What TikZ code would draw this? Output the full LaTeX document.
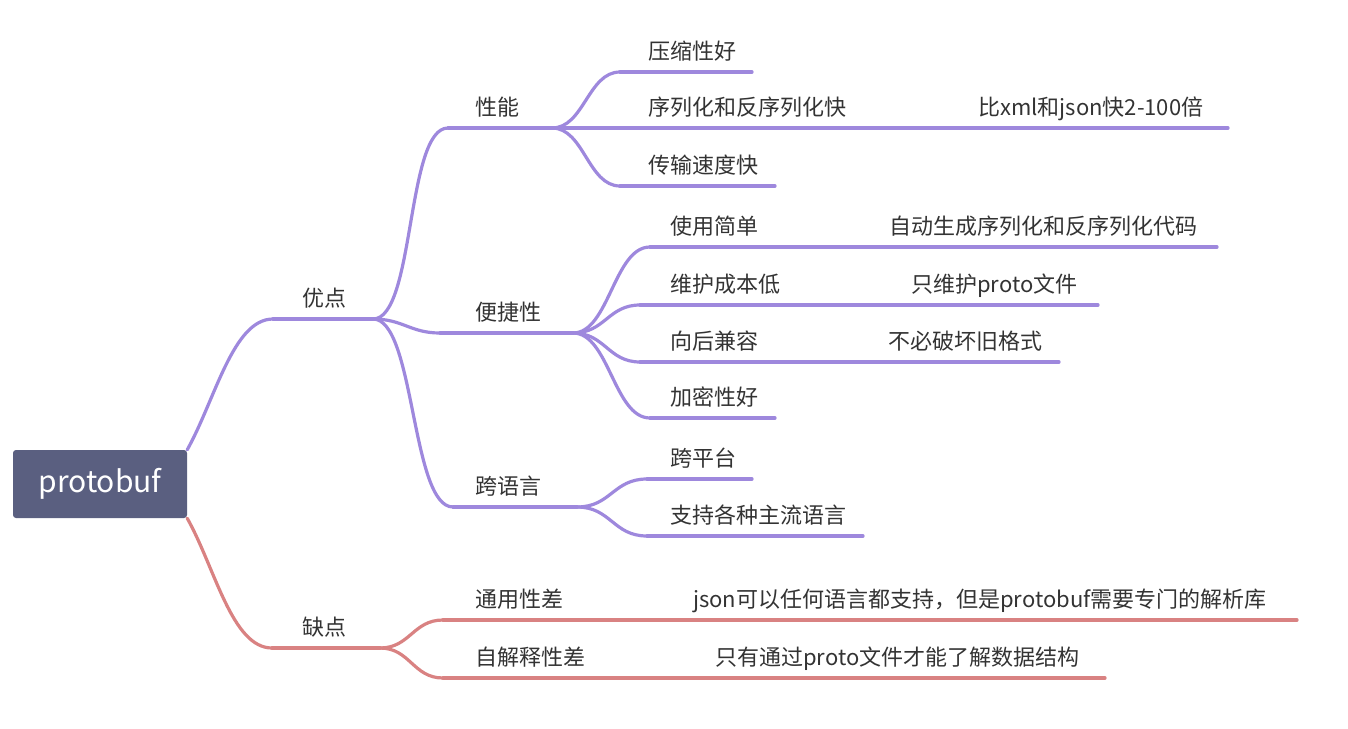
\documentclass[tikz,border=0pt]{standalone}
\usepackage{fontspec}
\newfontfamily\cjk{Noto Sans CJK SC}
\usetikzlibrary{calc}
\definecolor{topic}{HTML}{5A5F80}
\definecolor{pro}{HTML}{9E88DD}
\definecolor{con}{HTML}{D98282}
\definecolor{ink}{HTML}{333333}

\begin{document}
\begin{tikzpicture}[x=1pt, y=-1pt,
  rootbox/.style={fill=topic, rounded corners=3pt, minimum width=174pt, minimum height=68pt,
    text=white, font=\cjk\fontsize{30}{34}\selectfont},
  lbl/.style={anchor=west, inner sep=0pt, text=ink, text height=19pt, text depth=3pt,
    font=\cjk\fontsize{22}{26}\selectfont},
  branch/.style={line width=3.2pt, line cap=round}]
\useasboundingbox (0,0) rectangle (1348,728);

% ---------- root
\node[rootbox] (root) at (100,484) {protobuf};

% ---------- every topic: underline from (name-s) to (name-e), text above it
\foreach \n/\t/\xs/\xe/\y/\xt/\c in {
    adv/优点/273/373/319/302/pro,
    dis/缺点/272/380/648/302/con,
    perf/性能/448/552/128/475/pro,
    conv/便捷性/440/573/333/475/pro,
    lang/跨语言/453/577/507/475/pro,
    gen/通用性差/443/590/620/475/con,
    self/自解释性差/443/612/678/475/con,
    cmp/压缩性好/620/752/72/648/pro,
    ser/序列化和反序列化快/620/862/128/648/pro,
    tr/传输速度快/620/775/186/648/pro,
    easy/使用简单/650/858/247/670/pro,
    maint/维护成本低/640/797/305/670/pro,
    back/向后兼容/640/805/362/670/pro,
    enc/加密性好/650/775/418/670/pro,
    plat/跨平台/647/752/479/670/pro,
    main/支持各种主流语言/647/863/536/670/pro,
    fast/比xml和json快2-100倍/862/1228/128/978/pro,
    auto/自动生成序列化和反序列化代码/858/1217/247/889/pro,
    only/只维护proto文件/797/1098/305/911/pro,
    keep/不必破坏旧格式/805/1059/362/888/pro,
    json/json可以任何语言都支持，但是protobuf需要专门的解析库/590/1297/620/693/con,
    data/只有通过proto文件才能了解数据结构/612/1105/678/715/con}{
  \coordinate (\n-s) at (\xs,\y);
  \coordinate (\n-e) at (\xe,\y);
  \draw[branch, \c] (\n-s) -- (\n-e);
  \node[lbl] (\n) at (\xt,\y-21) {\t};}

% ---------- links from the root
\draw[branch, pro] (root.north east) .. controls +(28,-50) and +(-40,0) .. (adv-s);
\draw[branch, con] (root.south east) .. controls +(28,50) and +(-40,0) .. (dis-s);

% ---------- links from a branch point to its children
\foreach \a/\b/\k/\c in {
    adv/perf/42/pro, adv/conv/30/pro, adv/lang/42/pro,
    perf/cmp/32/pro, perf/ser/32/pro, perf/tr/32/pro,
    conv/easy/36/pro, conv/maint/32/pro, conv/back/32/pro, conv/enc/36/pro,
    lang/plat/34/pro, lang/main/34/pro,
    dis/gen/30/con, dis/self/30/con}{
  \draw[branch, \c] (\a-e) .. controls +(\k,0) and +(-\k,0) .. (\b-s);}
\end{tikzpicture}
\end{document}
